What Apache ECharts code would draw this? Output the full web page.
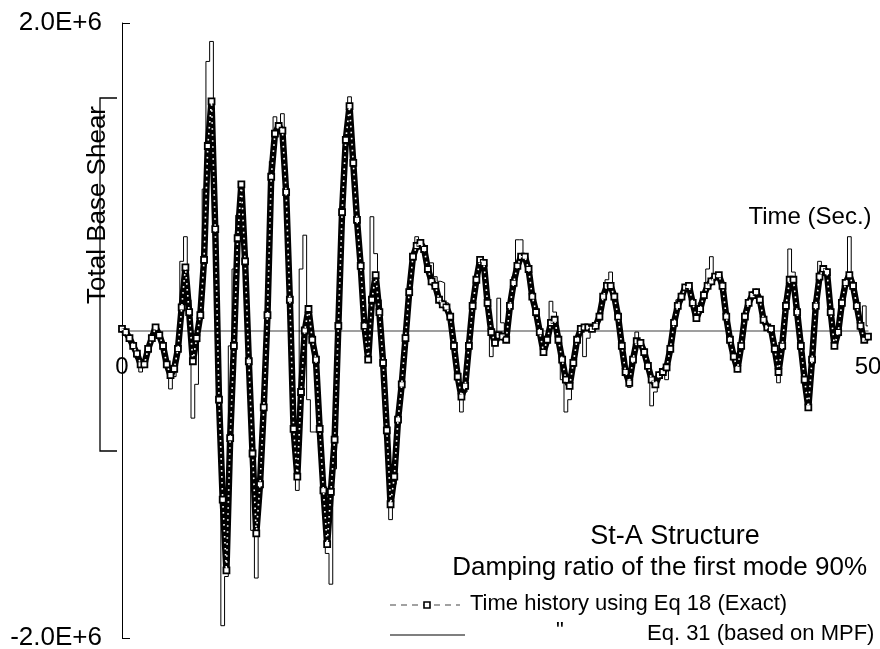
<!DOCTYPE html>
<html>
<head>
<meta charset="utf-8">
<script src="https://cdn.jsdelivr.net/npm/echarts@6/dist/echarts.min.js"></script>
<style>html,body{margin:0;padding:0;background:#fff}#c{width:880px;height:649px}</style>
</head>
<body>
<div id="c"></div>
<script>
// sampling step of the time histories (s)
const DT = 0.25;
// x-axis tick labels (s)
const xTicks = [0, 50];
// y-axis tick labels (N)
const yTicks = [-2.0e6, 2.0e6];
// Total base shear, in units of 1.0E+6, every 0.25 s from 0 to 50 s
// Time history using Eq 18 (Exact)
const exactMN = [
  0.01,-0.01,-0.05,-0.10,-0.15,-0.22,-0.22,-0.12,-0.05,0.02,
  -0.03,-0.10,-0.22,-0.29,-0.25,-0.12,0.15,0.41,0.12,-0.20,
  -0.05,0.10,0.46,1.20,1.49,0.66,-0.45,-1.10,-1.56,-0.70,
  -0.10,0.60,0.95,0.45,-0.20,-0.80,-1.32,-1.00,-0.50,0.10,
  1.00,1.28,1.33,1.30,0.90,0.20,-0.64,-0.95,-0.40,0.00,
  0.14,-0.06,-0.19,-0.64,-1.04,-1.39,-1.05,-0.71,0.03,0.77,
  1.24,1.46,1.09,0.72,0.42,0.03,-0.19,0.20,0.36,0.12,
  -0.21,-0.65,-1.13,-0.95,-0.58,-0.35,-0.05,0.25,0.48,0.55,
  0.57,0.53,0.40,0.32,0.29,0.20,0.17,0.15,0.09,-0.10,
  -0.30,-0.43,-0.36,-0.10,0.16,0.33,0.46,0.44,0.18,-0.01,
  -0.08,-0.03,-0.04,-0.06,0.16,0.31,0.42,0.48,0.48,0.40,
  0.22,0.12,-0.01,-0.14,-0.06,0.05,0.07,-0.06,-0.19,-0.32,
  -0.36,-0.21,-0.06,0.01,0.02,0.02,0.01,0.03,0.09,0.22,
  0.29,0.29,0.22,0.09,-0.10,-0.27,-0.34,-0.19,-0.07,-0.08,
  -0.14,-0.23,-0.32,-0.35,-0.29,-0.27,-0.24,-0.12,0.05,0.16,
  0.22,0.28,0.29,0.18,0.08,0.14,0.23,0.29,0.32,0.35,
  0.36,0.29,0.09,-0.06,-0.17,-0.25,-0.10,0.09,0.18,0.23,
  0.25,0.20,0.07,0.02,0.01,-0.12,-0.27,-0.10,0.16,0.33,
  0.33,0.12,-0.10,-0.32,-0.50,-0.19,0.16,0.35,0.40,0.38,
  0.12,-0.10,-0.01,0.18,0.31,0.36,0.29,0.16,0.03,-0.06,
  -0.04
];
// Eq. 31 (based on MPF)
const mpfMN = [
  0.01,-0.01,-0.05,-0.10,-0.18,-0.27,-0.24,-0.12,-0.05,0.02,
  -0.03,-0.10,-0.22,-0.38,-0.30,-0.12,0.45,0.61,0.20,-0.57,
  -0.35,0.15,0.92,1.75,1.88,0.70,-0.45,-1.92,-1.60,-0.10,
  0.40,0.75,0.95,0.45,-0.20,-1.30,-1.61,-1.00,-0.50,0.10,
  1.10,1.39,1.33,1.41,0.90,0.20,-0.64,-1.04,0.40,0.62,
  -0.45,-0.66,-0.66,-0.70,-1.10,-1.45,-1.65,-0.90,0.03,0.77,
  1.24,1.52,1.09,0.72,0.42,0.03,-0.12,0.74,0.50,0.20,
  -0.21,-0.70,-1.23,-1.00,-0.58,-0.35,-0.05,0.25,0.48,0.61,
  0.57,0.55,0.44,0.44,0.35,0.32,0.31,0.18,0.09,-0.10,
  -0.30,-0.53,-0.40,-0.10,0.16,0.33,0.46,0.44,0.18,-0.17,
  -0.10,0.21,0.05,-0.06,0.16,0.35,0.59,0.59,0.48,0.40,
  0.22,0.12,-0.01,-0.14,-0.06,0.19,0.12,-0.06,-0.32,-0.53,
  -0.45,-0.21,-0.06,0.01,-0.17,-0.05,0.01,0.03,0.09,0.22,
  0.33,0.38,0.22,0.09,-0.10,-0.27,-0.37,-0.19,-0.01,-0.08,
  -0.14,-0.23,-0.49,-0.40,-0.29,-0.27,-0.32,-0.12,0.05,0.20,
  0.22,0.28,0.29,0.18,0.08,0.18,0.23,0.40,0.48,0.36,
  0.36,0.29,0.09,-0.06,-0.17,-0.25,-0.10,0.09,0.18,0.23,
  0.25,0.20,0.07,0.02,0.01,-0.15,-0.34,-0.10,0.20,0.53,
  0.38,0.12,-0.10,-0.32,-0.52,-0.19,0.20,0.45,0.40,0.38,
  0.12,-0.10,-0.01,0.18,0.31,0.61,0.30,0.16,0.03,0.16,
  0.03
];
const UNIT = 1.0e6;
const seriesNames = ['Time history using Eq 18 (Exact)', 'Eq. 31 (based on MPF)'];

const FONT = '"Liberation Sans", Arial, sans-serif';
const toPairs = arr => arr.map((v, i) => [i * DT, v * UNIT]);

const W = 880, H = 649;
const G = {left: 122, right: 12, top: 23, bottom: 11};
const plotH = H - G.top - G.bottom;
// move the x axis (line + labels) from the bottom of the grid up to the zero line
const zeroOffset = -plotH * (0 - yTicks[0]) / (yTicks[1] - yTicks[0]);

const chart = echarts.init(document.getElementById('c'), null, {renderer: 'canvas', width: W, height: H});
const option = {
  animation: false,
  backgroundColor: '#fff',
  grid: Object.assign({containLabel: false, outerBoundsMode: 'none'}, G),
  xAxis: {
    type: 'value', min: xTicks[0], max: xTicks[1], interval: xTicks[1] - xTicks[0],
    position: 'bottom', offset: zeroOffset,
    axisLine: {show: true, onZero: false, lineStyle: {color: '#808080', width: 1.5}},
    axisTick: {show: false},
    splitLine: {show: false},
    axisLabel: {fontSize: 24, color: '#000', margin: 25, fontFamily: FONT,
      formatter: v => String(v)}
  },
  yAxis: {
    type: 'value', min: yTicks[0], max: yTicks[1], interval: yTicks[1] - yTicks[0],
    axisLine: {show: true, onZero: false, lineStyle: {color: '#000', width: 1}},
    axisTick: {show: true, inside: true, length: 8, lineStyle: {color: '#000', width: 1}},
    splitLine: {show: false},
    axisLabel: {fontSize: 26, color: '#000', margin: 20, fontFamily: FONT,
      formatter: v => (v / UNIT).toFixed(1) + 'E+6'}
  },
  series: [
    {
      name: seriesNames[1], type: 'line', data: toPairs(mpfMN),
      step: 'middle', showSymbol: false, symbol: 'none',
      lineStyle: {color: '#000', width: 1}, z: 2
    },
    {
      // dense chain of square markers: black band
      name: seriesNames[0], type: 'line', data: toPairs(exactMN),
      symbol: 'rect', symbolSize: 6, showAllSymbol: true,
      itemStyle: {color: '#fff', borderColor: '#000', borderWidth: 1.8},
      lineStyle: {color: '#000', width: 6.5, join: 'round'}, z: 3
    },
    {
      // white marker centres along the chain
      name: seriesNames[0], type: 'line', data: toPairs(exactMN),
      symbol: 'none', silent: true,
      lineStyle: {color: '#fff', width: 1.6, type: [1.6, 4.4]}, z: 4
    }
  ],
  graphic: [
    {type: 'polyline', shape: {points: [[117, 98], [100, 98], [100, 451], [117, 451]]},
      style: {stroke: '#000', lineWidth: 1.3, fill: null}, z: 10},
    {type: 'text', x: 98, y: 205, rotation: Math.PI / 2,
      style: {text: 'Total Base Shear', font: '26px ' + FONT, fill: '#000',
        textAlign: 'center', textVerticalAlign: 'middle'}, z: 10},
    {type: 'text', x: 810, y: 217,
      style: {text: 'Time (Sec.)', font: '24px ' + FONT, fill: '#000',
        textAlign: 'center', textVerticalAlign: 'middle'}, z: 10},
    {type: 'text', x: 675, y: 537,
      style: {text: 'St-A Structure', font: '27px ' + FONT, fill: '#000',
        textAlign: 'center', textVerticalAlign: 'middle'}, z: 10},
    {type: 'text', x: 867, y: 568,
      style: {text: 'Damping ratio of the first mode 90%', font: '26px ' + FONT, fill: '#000',
        textAlign: 'right', textVerticalAlign: 'middle'}, z: 10},
    {type: 'line', shape: {x1: 390, y1: 605, x2: 460, y2: 605},
      style: {stroke: '#444', lineWidth: 1.2, lineDash: [6, 5]}, z: 10},
    {type: 'rect', shape: {x: 424, y: 602, width: 6, height: 6},
      style: {fill: '#fff', stroke: '#000', lineWidth: 1.6}, z: 11},
    {type: 'text', x: 470, y: 604,
      style: {text: seriesNames[0], font: '22px ' + FONT, fill: '#000',
        textAlign: 'left', textVerticalAlign: 'middle'}, z: 10},
    {type: 'line', shape: {x1: 390, y1: 635, x2: 465, y2: 635},
      style: {stroke: '#555', lineWidth: 1.5}, z: 10},
    {type: 'text', x: 560, y: 631,
      style: {text: '"', font: '22px ' + FONT, fill: '#000',
        textAlign: 'center', textVerticalAlign: 'middle'}, z: 10},
    {type: 'text', x: 647, y: 634,
      style: {text: seriesNames[1], font: '22px ' + FONT, fill: '#000',
        textAlign: 'left', textVerticalAlign: 'middle'}, z: 10}
  ]
};
chart.setOption(option);
</script>
</body>
</html>
